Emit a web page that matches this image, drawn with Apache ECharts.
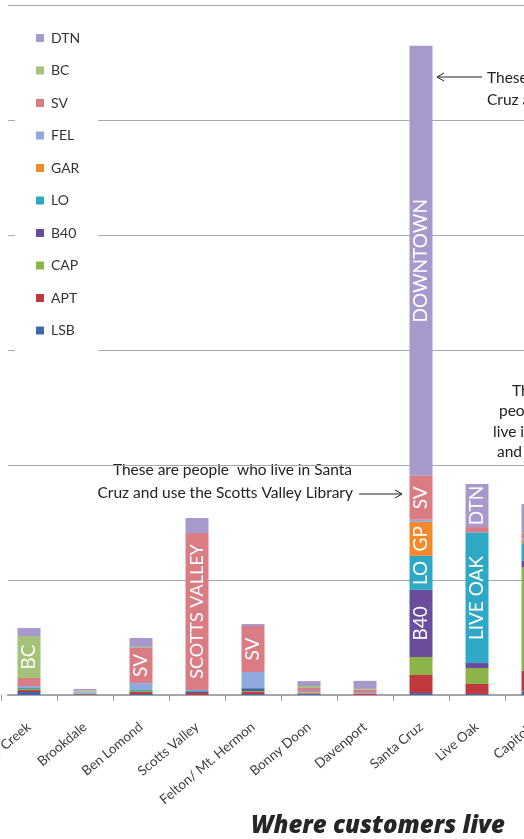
<!DOCTYPE html>
<html>
<head>
<meta charset="utf-8">
<script src="https://cdn.jsdelivr.net/npm/echarts@6/dist/echarts.min.js"></script>
<style>
html,body{margin:0;padding:0;background:#fff;}
#chart{width:524px;height:839px;}
</style>
</head>
<body>
<div id="chart"></div>
<script>
// ---- data ----
const categories = ['Boulder Creek','Brookdale','Ben Lomond','Scotts Valley','Felton/ Mt. Hermon','Bonny Doon','Davenport','Santa Cruz','Live Oak','Capitola'];
// stacked bottom -> top
const LSB = [26, 4, 9, 0, 9, 9, 0, 17, 9, 30];
const APT = [17, 4, 17, 17, 17, 0, 9, 157, 87, 180];
const CAP = [9, 4, 9, 0, 9, 0, 0, 157, 139, 900];
const B40 = [0, 0, 0, 9, 17, 0, 0, 583, 43, 60];
const LO  = [9, 4, 9, 9, 9, 0, 0, 296, 1130, 150];
const GAR = [0, 0, 0, 0, 0, 9, 0, 296, 0, 20];
const FEL = [17, 8, 61, 9, 139, 17, 9, 17, 9, 20];
const SV  = [70, 6, 304, 1365, 400, 26, 26, 383, 43, 40];
const BC  = [365, 8, 9, 0, 0, 17, 9, 0, 0, 10];
const DTN = [70, 14, 78, 130, 17, 43, 70, 3739, 374, 250];
const seriesNames = ['LSB','APT','CAP','B40','LO','GAR','FEL','SV','BC','DTN'];
const seriesValues = {LSB, APT, CAP, B40, LO, GAR, FEL, SV, BC, DTN};
const legendOrder = ['DTN','BC','SV','FEL','GAR','LO','B40','CAP','APT','LSB'];
// text written inside bar segments: [category, series, text]
const barTexts = [
  ['Boulder Creek','BC','BC'],
  ['Ben Lomond','SV','SV'],
  ['Scotts Valley','SV','SCOTTS VALLEY'],
  ['Felton/ Mt. Hermon','SV','SV'],
  ['Santa Cruz','DTN','DOWNTOWN'],
  ['Santa Cruz','SV','SV'],
  ['Santa Cruz','GAR','GP'],
  ['Santa Cruz','LO','LO'],
  ['Santa Cruz','B40','B40'],
  ['Live Oak','DTN','DTN'],
  ['Live Oak','LO','LIVE OAK']
];
const yMax = 6000, yStep = 1000;

const colors = {
  LSB:'#3f67ad', APT:'#c0393c', CAP:'#8db44a', B40:'#6b4d9e', LO:'#2ea8c4',
  GAR:'#f08a2c', FEL:'#8ea9db', SV:'#d97c84', BC:'#a4c27a', DTN:'#a899cc'
};
const FONT = 'Lato, "Open Sans", sans-serif';

const series = seriesNames.map(name => ({
  name,
  type: 'bar',
  stack: 'all',
  xAxisIndex: 0, yAxisIndex: 0,
  barWidth: 23,
  itemStyle: {color: colors[name]},
  label: {show: false},
  data: seriesValues[name].map((v, i) => {
    const t = barTexts.find(b => b[0] === categories[i] && b[1] === name);
    if (!t) return v;
    return {
      value: v,
      label: {
        show: true, position: 'inside', rotate: 90, formatter: t[2],
        color: '#fff', fontSize: t[2].length > 8 ? 18 : 19, fontFamily: FONT
      }
    };
  })
}));

const chart = echarts.init(document.getElementById('chart'), null, {renderer: 'canvas'});
const ann = {fontSize: 15.5, fontFamily: FONT, fill: '#222'};
chart.setOption({
  animation: false,
  backgroundColor: '#fff',
  color: seriesNames.map(n => colors[n]),
  title: {
    text: 'Where customers live',
    left: 378, top: 814, textAlign: 'center', padding: 0,
    textStyle: {fontSize: 24, fontWeight: 800, fontStyle: 'italic', color: '#262626', fontFamily: '"Open Sans", Lato, sans-serif'}
  },
  legend: {
    orient: 'vertical', left: 15, top: 12, z: 10,
    backgroundColor: '#fff',
    padding: [18, 18, 16, 21],
    icon: 'rect', itemWidth: 8, itemHeight: 8, itemGap: 16.5,
    data: legendOrder,
    textStyle: {fontSize: 14, color: '#333', fontFamily: FONT, lineHeight: 16, padding: [0, 0, 0, 2]}
  },
  grid: [
    {left: 1, right: -37, top: 5, bottom: 144, containLabel: false, outerBoundsMode: 'none'},
    {left: 8, right: 0, top: 5, bottom: 144, containLabel: false, outerBoundsMode: 'none'}
  ],
  xAxis: [
    {
      type: 'category', gridIndex: 0, data: categories,
      axisLine: {show: false},
      axisTick: {show: true, length: 6, lineStyle: {color: '#999'}},
      axisLabel: {rotate: 40, margin: 30, fontSize: 13.5, color: '#404040', fontFamily: FONT, interval: 0}
    },
    {
      type: 'value', gridIndex: 1, position: 'top', min: 0, max: 1,
      axisLine: {show: true, lineStyle: {color: '#a6a6a6', width: 2}},
      axisTick: {show: false}, axisLabel: {show: false}, splitLine: {show: false}
    }
  ],
  yAxis: [
    {type: 'value', gridIndex: 0, min: 0, max: yMax, interval: yStep, show: false},
    {
      type: 'value', gridIndex: 1, min: 0, max: yMax, interval: yStep,
      axisLine: {show: false}, axisTick: {show: false}, axisLabel: {show: false},
      splitLine: {show: true, showMinLine: false, lineStyle: {color: '#a8a8a8', width: 1}}
    }
  ],
  series,
  graphic: [
    {type: 'text', x: 352, y: 470, style: Object.assign({text: 'These are people  who live in Santa', align: 'right', verticalAlign: 'middle'}, ann)},
    {type: 'text', x: 353, y: 493, style: Object.assign({text: 'Cruz and use the Scotts Valley Library', align: 'right', verticalAlign: 'middle'}, ann)},
    {type: 'line', shape: {x1: 359, y1: 494, x2: 402, y2: 494}, style: {stroke: '#222', lineWidth: 1}},
    {type: 'polyline', shape: {points: [[395, 490], [402, 494], [395, 498]]}, style: {stroke: '#222', lineWidth: 1, fill: null}},

    {type: 'line', shape: {x1: 437, y1: 77, x2: 482, y2: 77}, style: {stroke: '#222', lineWidth: 1}},
    {type: 'polyline', shape: {points: [[444, 73], [437, 77], [444, 81]]}, style: {stroke: '#222', lineWidth: 1, fill: null}},
    {type: 'text', x: 487, y: 78, style: Object.assign({text: 'These are people who live in Santa', align: 'left', verticalAlign: 'middle'}, ann)},
    {type: 'text', x: 487, y: 100, style: Object.assign({text: 'Cruz and use the Downtown Library', align: 'left', verticalAlign: 'middle'}, ann)},

    {type: 'text', x: 512, y: 391, style: Object.assign({text: 'These are', align: 'left', verticalAlign: 'middle'}, ann)},
    {type: 'text', x: 499, y: 411, style: Object.assign({text: 'people who', align: 'left', verticalAlign: 'middle'}, ann)},
    {type: 'text', x: 493, y: 432, style: Object.assign({text: 'live in Live Oak', align: 'left', verticalAlign: 'middle'}, ann)},
    {type: 'text', x: 497, y: 452, style: Object.assign({text: 'and use the', align: 'left', verticalAlign: 'middle'}, ann)}
  ]
});
</script>
</body>
</html>
